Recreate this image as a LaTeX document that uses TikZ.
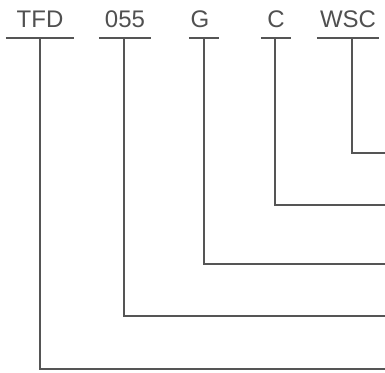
\documentclass[tikz,border=0pt]{standalone}
\usepackage{fontspec}
\setmainfont{Liberation Sans}
\definecolor{linegray}{HTML}{555555}
\definecolor{textgray}{HTML}{505050}
\begin{document}
\begin{tikzpicture}[x=1pt,y=-1pt,
  lbl/.style={anchor=south, inner xsep=0pt, inner ysep=10.5pt, text depth=0pt,
    font=\fontsize{24}{28}\selectfont, text=textgray},
  conn/.style={draw=linegray, line width=1.2pt}]
\useasboundingbox (0,0) rectangle (385,372);
\node[lbl, minimum width=68pt] (tfd) at (40,38) {TFD};
\node[lbl, minimum width=52pt] (n055) at (125,38) {055};
\node[lbl, minimum width=30pt] (g) at (204,38) {G\hspace*{8pt}};
\node[lbl, minimum width=30pt] (c) at (276,38) {C};
\node[lbl, minimum width=62pt] (wsc) at (348,38) {WSC};
\coordinate (e1) at (385,369);
\coordinate (e2) at (385,316);
\coordinate (e3) at (385,264);
\coordinate (e4) at (385,205);
\coordinate (e5) at (385,153);
\foreach \n in {tfd,n055,g,c,wsc}{
  \draw[conn] (\n.south west) -- (\n.south east);
}
\draw[conn] (tfd.south) |- (e1);
\draw[conn] ([xshift=-1pt]n055.south) |- (e2);
\draw[conn] (g.south) |- (e3);
\draw[conn] ([xshift=-1pt]c.south) |- (e4);
\draw[conn] ([xshift=4pt]wsc.south) |- (e5);
\end{tikzpicture}
\end{document}
